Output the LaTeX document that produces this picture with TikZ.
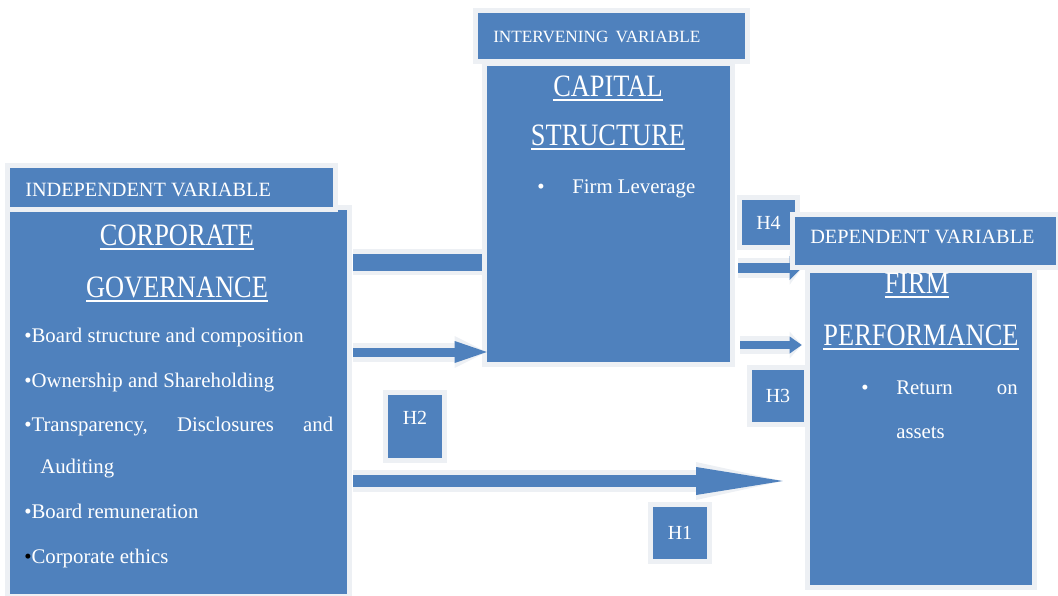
\documentclass[tikz,border=0pt]{standalone}
\usepackage{graphicx}
\usepackage{fontspec}
\setmainfont{Liberation Serif}
\newfontfamily\titlefont[FakeStretch=0.9]{Liberation Serif}
\usetikzlibrary{arrows.meta}
\definecolor{boxblue}{HTML}{4F81BD}
\definecolor{glow}{HTML}{EDF0F4}
\newcommand{\ulin}[1]{\setbox0\hbox{\scalebox{1}[1.06]{#1}}\rlap{\rule[-3.6pt]{\wd0}{1.5pt}}\box0}
\tikzset{
  glowbox/.style={fill=boxblue, inner sep=0pt, preaction={draw=glow, line width=7.5pt}},
  txt/.style={text=white, inner sep=0pt, anchor=base west},
  ctxt/.style={text=white, inner sep=0pt, anchor=base},
  lab/.style={font=\fontsize{15.2}{18}\selectfont},
  ttl/.style={font=\titlefont\fontsize{22}{26}\selectfont},
  body/.style={font=\fontsize{15.6}{18}\selectfont},
  hyp/.style={glowbox, text=white, font=\fontsize{15}{18}\selectfont},
  blockarrow/.style n args={5}{draw=boxblue, line width=#1,
    -{Triangle[length=#2,width=#3,line width=0pt]},
    preaction={draw=glow, line width=#4, -{Triangle[length=#2,width=#5,line width=0pt]}}},
  plainbar/.style={draw=boxblue, line width=12.75pt, preaction={draw=glow, line width=20pt}}
}
\begin{document}
\begin{tikzpicture}[x=0.75pt,y=-0.75pt]
\useasboundingbox (0,0) rectangle (1058,596);
% main boxes
\node[glowbox, minimum width=252.75pt, minimum height=288pt] (cg) at (178.5,402) {};
\node[glowbox, minimum width=182.25pt, minimum height=222pt] (cs) at (608.5,214) {};
\node[glowbox, minimum width=166.5pt, minimum height=234pt] (fp) at (921,429) {};
% helper rows for connectors
\coordinate (ya) at (0,262);
\coordinate (yb) at (0,352);
\coordinate (yc) at (0,481);
\coordinate (yd) at (0,268);
\coordinate (ye) at (0,345);
% connectors
\draw[plainbar, shorten <=4.5pt, shorten >=3.75pt] (cg.east |- ya) -- (cs.west |- ya);
\draw[blockarrow={6.75pt}{24pt}{16.5pt}{14.25pt}{24pt}, shorten <=4.5pt] (cg.east |- yb) -- (cs.west |- yb);
\draw[blockarrow={9pt}{65pt}{21pt}{16.5pt}{28.5pt}, shorten <=4.5pt, shorten >=20.25pt] (cg.east |- yc) -- (fp.west |- yc);
\draw[blockarrow={7.5pt}{9pt}{18pt}{15pt}{25pt}, shorten <=6pt, shorten >=6pt] (cs.east |- yd) -- (fp.west |- yd);
\draw[blockarrow={6pt}{9pt}{12.75pt}{13.5pt}{20pt}, shorten <=7.5pt, shorten >=6pt] (cs.east |- ye) -- (fp.west |- ye);
% hypothesis boxes
\node[hyp, minimum width=39.75pt, minimum height=33.75pt] (h4) at (768.5,222.5) {H4};
\node[hyp, minimum width=39pt, minimum height=39pt] (h3) at (778,396) {H3};
\node[hyp, minimum width=40.5pt, text height=21.75pt, text depth=25.5pt] (h2) at (415,426.5) {H2};
\node[hyp, minimum width=40.5pt, minimum height=39pt] (h1) at (680,533) {H1};
% variable labels
\node[glowbox, minimum width=242.25pt, minimum height=29.25pt] (indep) at (171.5,187.5) {};
\node[glowbox, minimum width=200.25pt, minimum height=34.5pt] (interv) at (611.5,36) {};
\node[glowbox, minimum width=195.75pt, minimum height=36pt] (dep) at (925.5,241) {};
% label texts
\node[txt, lab] (tindep) at (25,196) {INDEPENDENT VARIABLE};
\node[txt, font=\fontsize{12.9}{16}\selectfont] (tinterv) at (493,42) {INTERVENING\, VARIABLE};
\node[txt, lab] (tdep) at (810,243) {DEPENDENT VARIABLE};
% corporate governance
\node[ctxt, ttl] (t1) at (177,245) {\ulin{CORPORATE}};
\node[ctxt, ttl] (t2) at (177,297) {\ulin{GOVERNANCE}};
\node[txt, body] (b1) at (24,342) {\textbullet Board structure and composition};
\node[txt, body] (b2) at (24,387) {\textbullet Ownership and Shareholding};
\node[txt, body] (b3) at (24,431) {\hbox to 231.75pt{\textbullet Transparency,\hfill Disclosures\hfill and}};
\node[txt, body] (b3b) at (40,473) {Auditing};
\node[txt, body] (b4) at (24,518) {\textbullet Board remuneration};
\node[txt, body] (b5) at (24,563) {{\color{black}\textbullet}Corporate ethics};
% capital structure
\node[ctxt, ttl] (t3) at (608,96) {\ulin{CAPITAL}};
\node[ctxt, ttl] (t4) at (608,145) {\ulin{STRUCTURE}};
\node[txt, body] (c1a) at (537,193) {\textbullet};
\node[txt, body] (c1) at (572,193) {Firm Leverage};
% firm performance
\node[ctxt, ttl] (t5) at (917,293) {\ulin{FIRM}};
\node[ctxt, ttl] (t6) at (921,345) {\ulin{PERFORMANCE}};
\node[txt, body] (f1a) at (861,394) {\textbullet};
\node[txt, body] (f1) at (896,394) {Return};
\node[txt, body, anchor=base east] (f1b) at (1018,394) {on};
\node[txt, body] (f2) at (896,438) {assets};
\end{tikzpicture}
\end{document}
